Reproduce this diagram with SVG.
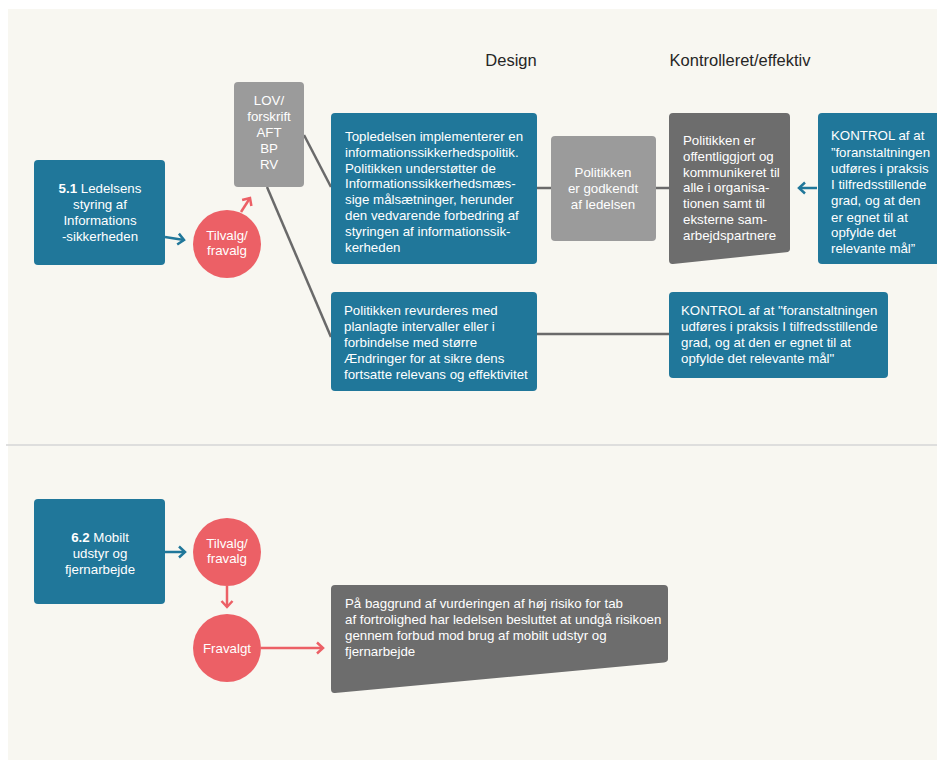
<svg xmlns="http://www.w3.org/2000/svg" width="937" height="760" viewBox="0 0 937 760">
<style>
.t{font-family:"Liberation Sans",Arial,sans-serif;font-size:13.3px;fill:#ffffff}
.c{text-anchor:middle}
.h{font-family:"Liberation Sans",Arial,sans-serif;font-size:16.5px;fill:#262626;text-anchor:middle}
.teal{fill:#20779a}
.gray{fill:#9b9b9b}
.dark{fill:#6d6d6d}
.red{fill:#ec6066}
.conn{stroke:#6a6a6a;stroke-width:2.5;fill:none}
.ta{stroke:#20779a;stroke-width:2.5;fill:none}
.ra{stroke:#ec6066;stroke-width:2.5;fill:none}
</style>
<defs>
<marker id="mt" markerUnits="userSpaceOnUse" markerWidth="12" markerHeight="14" refX="9" refY="7" orient="auto">
<path d="M3,1.5 L9,7 L3,12.5" fill="none" stroke="#20779a" stroke-width="2.5"/>
</marker>
<marker id="mr" markerUnits="userSpaceOnUse" markerWidth="12" markerHeight="14" refX="9" refY="7" orient="auto">
<path d="M3,1.5 L9,7 L3,12.5" fill="none" stroke="#ec6066" stroke-width="2.5"/>
</marker>
</defs>
<rect x="8" y="9" width="929" height="751" fill="#f8f7f1"/>
<line x1="6" y1="445" x2="937" y2="445" stroke="#d6d6d6" stroke-width="1.5"/>
<text class="h" x="511" y="66">Design</text>
<text class="h" x="740" y="66">Kontrolleret/effektiv</text>
<g id="connectors">
<line class="conn" x1="304" y1="135" x2="331" y2="187"/>
<line class="conn" x1="267" y1="187" x2="331" y2="337"/>
<line class="conn" x1="537" y1="188" x2="551" y2="188"/>
<line class="conn" x1="656" y1="188" x2="669" y2="188"/>
<line class="conn" x1="537" y1="334" x2="669" y2="334"/>
<line class="ta" x1="165" y1="237" x2="184" y2="240" marker-end="url(#mt)"/>
<line class="ra" x1="241" y1="212" x2="250" y2="198" marker-end="url(#mr)"/>
<line class="ta" x1="817" y1="188" x2="799" y2="188" marker-end="url(#mt)"/>
<line class="ta" x1="165" y1="552" x2="185" y2="552" marker-end="url(#mt)"/>
<line class="ra" x1="227" y1="586" x2="227" y2="607" marker-end="url(#mr)"/>
<line class="ra" x1="261" y1="648" x2="323" y2="648" marker-end="url(#mr)"/>
</g>
<g id="n51">
<rect class="teal" x="34" y="160" width="131" height="105" rx="4"/>
<text class="t c" x="100" y="193"><tspan font-weight="bold">5.1</tspan> Ledelsens</text>
<text class="t c" x="100" y="209">styring af</text>
<text class="t c" x="100" y="225">Informations</text>
<text class="t c" x="100" y="241">-sikkerheden</text>
</g>
<g id="tilvalg1">
<circle class="red" cx="227" cy="244" r="34"/>
<text class="t c" x="227" y="240">Tilvalg/</text>
<text class="t c" x="227" y="255">fravalg</text>
</g>
<g id="lov">
<rect class="gray" x="234" y="82" width="70" height="105" rx="4"/>
<text class="t c" x="269" y="105">LOV/</text>
<text class="t c" x="269" y="121">forskrift</text>
<text class="t c" x="269" y="137">AFT</text>
<text class="t c" x="269" y="153">BP</text>
<text class="t c" x="269" y="169">RV</text>
</g>
<g id="topledelsen">
<rect class="teal" x="331" y="113" width="206" height="151" rx="4"/>
<text class="t" x="345" y="141">Topledelsen implementerer en</text>
<text class="t" x="345" y="157">informationssikkerhedspolitik.</text>
<text class="t" x="345" y="173">Politikken understøtter de</text>
<text class="t" x="345" y="188">Informationssikkerhedsmæs-</text>
<text class="t" x="345" y="204">sige målsætninger, herunder</text>
<text class="t" x="345" y="220">den vedvarende forbedring af</text>
<text class="t" x="345" y="236">styringen af informationssik-</text>
<text class="t" x="345" y="252">kerheden</text>
</g>
<g id="godkendt">
<rect class="gray" x="551" y="136" width="105" height="105" rx="4"/>
<text class="t c" x="603" y="177">Politikken</text>
<text class="t c" x="603" y="193">er godkendt</text>
<text class="t c" x="603" y="209">af ledelsen</text>
</g>
<g id="offentliggjort">
<path class="dark" d="M673,113 H786 Q790,113 790,117 V249 Q790,252 786,252.3 L673,264 Q669,264.3 669,260 V117 Q669,113 673,113 Z"/>
<text class="t" x="683" y="145">Politikken er</text>
<text class="t" x="683" y="161">offentliggjort og</text>
<text class="t" x="683" y="177">kommunikeret til</text>
<text class="t" x="683" y="192">alle i organisa-</text>
<text class="t" x="683" y="208">tionen samt til</text>
<text class="t" x="683" y="224">eksterne sam-</text>
<text class="t" x="683" y="240">arbejdspartnere</text>
</g>
<g id="kontrol1">
<rect class="teal" x="818" y="113" width="125" height="151" rx="4"/>
<text class="t" x="831" y="140">KONTROL af at</text>
<text class="t" x="831" y="157">”foranstaltningen</text>
<text class="t" x="831" y="173">udføres i praksis</text>
<text class="t" x="831" y="189">I tilfredsstillende</text>
<text class="t" x="831" y="205">grad, og at den</text>
<text class="t" x="831" y="222">er egnet til at</text>
<text class="t" x="831" y="237">opfylde det</text>
<text class="t" x="831" y="253">relevante mål”</text>
</g>
<g id="revurderes">
<rect class="teal" x="331" y="292" width="206" height="99" rx="4"/>
<text class="t" x="344" y="315">Politikken revurderes med</text>
<text class="t" x="344" y="331">planlagte intervaller eller i</text>
<text class="t" x="344" y="347">forbindelse med større</text>
<text class="t" x="344" y="363">Ændringer for at sikre dens</text>
<text class="t" x="344" y="379">fortsatte relevans og effektivitet</text>
</g>
<g id="kontrol2">
<rect class="teal" x="669" y="292" width="219" height="86" rx="4"/>
<text class="t" x="681" y="315">KONTROL af at "foranstaltningen</text>
<text class="t" x="681" y="331">udføres i praksis I tilfredsstillende</text>
<text class="t" x="681" y="347">grad, og at den er egnet til at</text>
<text class="t" x="681" y="363">opfylde det relevante mål"</text>
</g>
<g id="n62">
<rect class="teal" x="34" y="499" width="131" height="105" rx="4"/>
<text class="t c" x="100" y="542"><tspan font-weight="bold">6.2</tspan> Mobilt</text>
<text class="t c" x="100" y="558">udstyr og</text>
<text class="t c" x="100" y="574">fjernarbejde</text>
</g>
<g id="tilvalg2">
<circle class="red" cx="227" cy="552" r="34"/>
<text class="t c" x="227" y="548">Tilvalg/</text>
<text class="t c" x="227" y="563">fravalg</text>
</g>
<g id="fravalgt">
<circle class="red" cx="227" cy="648" r="34"/>
<text class="t c" x="227" y="653">Fravalgt</text>
</g>
<g id="forbud">
<path class="dark" d="M335,585 H664 Q668,585 668,589 V659 Q668,662 664,662.4 L335,693 Q331,693.4 331,689 V589 Q331,585 335,585 Z"/>
<text class="t" x="345" y="608">På baggrund af vurderingen af høj risiko for tab</text>
<text class="t" x="345" y="624">af fortrolighed har ledelsen besluttet at undgå risikoen</text>
<text class="t" x="345" y="640">gennem forbud mod brug af mobilt udstyr og</text>
<text class="t" x="345" y="656">fjernarbejde</text>
</g>
</svg>
